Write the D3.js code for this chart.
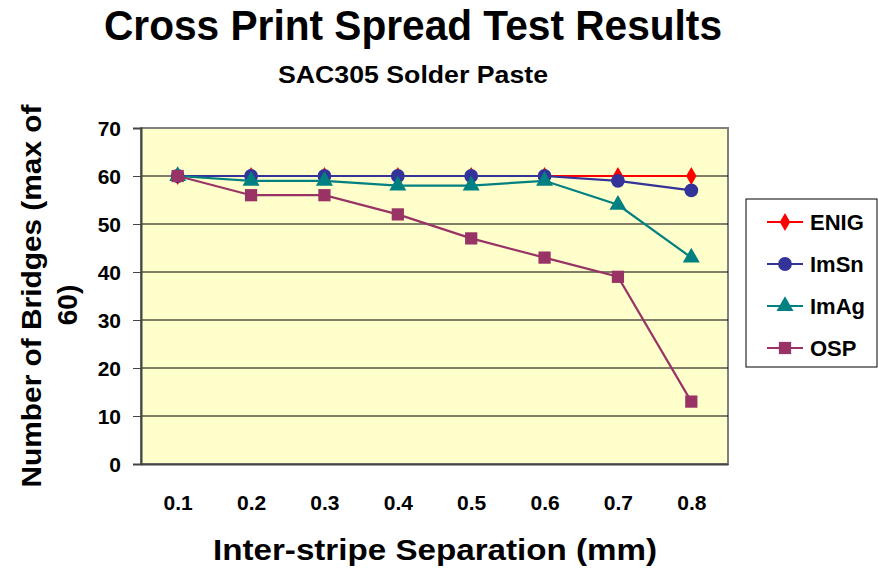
<!doctype html>
<html lang="en">
<head>
<meta charset="utf-8">
<title>Cross Print Spread Test Results</title>
<script src="https://cdn.jsdelivr.net/npm/d3@7"></script>
<style>
  body { margin: 0; background: #fff; }
  svg text { font-family: "Liberation Sans", Arial, sans-serif; font-weight: bold; fill: #000; }
</style>
</head>
<body>
<svg width="878" height="573"></svg>
<script>
  // data
  const separations = ["0.1", "0.2", "0.3", "0.4", "0.5", "0.6", "0.7", "0.8"];
  const enig = [60, 60, 60, 60, 60, 60, 60, 60];
  const imsn = [60, 60, 60, 60, 60, 60, 59, 57];
  const imag = [60, 59, 59, 58, 58, 59, 54, 43];
  const osp  = [60, 56, 56, 52, 47, 43, 39, 13];
  const yTicks = [0, 10, 20, 30, 40, 50, 60, 70];

  const series = [
    {name: "ENIG", values: enig, color: "#ff0000", shape: d3.symbolDiamond, size: 95},
    {name: "ImSn", values: imsn, color: "#333399", shape: d3.symbolCircle, size: 150},
    {name: "ImAg", values: imag, color: "#008080", shape: d3.symbolTriangle, size: 125},
    {name: "OSP",  values: osp,  color: "#993366", shape: d3.symbolSquare, size: 150}
  ];

  const margin = {top: 128, left: 141};
  const width = 728 - margin.left;
  const height = 464 - margin.top;

  const svg = d3.select("svg");

  // condensed-looking text: stretch to the measured width
  function label(x, y, size, str, len) {
    return svg.append("text")
      .attr("x", x).attr("y", y)
      .attr("text-anchor", "middle")
      .style("font-size", size + "px")
      .attr("textLength", len).attr("lengthAdjust", "spacingAndGlyphs")
      .text(str);
  }

  label(413, 40, 42, "Cross Print Spread Test Results", 618);
  label(413, 83, 23, "SAC305 Solder Paste", 270);

  const g = svg.append("g").attr("transform", `translate(${margin.left},${margin.top})`);

  const x = d3.scalePoint().domain(separations).range([0, width]).padding(0.5);
  const y = d3.scaleLinear().domain([0, 70]).range([height, 0]);

  g.append("rect")
    .attr("width", width).attr("height", height)
    .attr("fill", "#ffffcc")
    .attr("stroke", "#808080").attr("stroke-width", 2);

  // grid
  g.selectAll(".grid").data(yTicks.filter(d => d > 0 && d < 70)).enter()
    .append("line")
    .attr("x1", 0).attr("x2", width)
    .attr("y1", d => y(d)).attr("y2", d => y(d))
    .attr("stroke", "#000").attr("stroke-width", 1);

  const yAxis = g.append("g")
    .call(d3.axisLeft(y).tickValues(yTicks).tickSize(8).tickPadding(12));
  yAxis.select(".domain").attr("stroke", "#444").attr("stroke-width", 2);
  yAxis.selectAll(".tick line").attr("stroke", "#444");
  yAxis.selectAll("text").style("font-size", "21px").attr("dy", "0.36em");

  const xAxis = g.append("g").attr("transform", `translate(0,${height})`)
    .call(d3.axisBottom(x).tickSize(0).tickPadding(31));
  xAxis.select(".domain").attr("stroke", "#444").attr("stroke-width", 2);
  xAxis.selectAll("text").style("font-size", "21px");

  const line = d3.line().x((d, i) => x(separations[i])).y(d => y(d));

  series.forEach(s => {
    g.append("path")
      .attr("d", line(s.values))
      .attr("fill", "none")
      .attr("stroke", s.color).attr("stroke-width", 2.2);
    g.selectAll(null).data(s.values).enter()
      .append("path")
      .attr("d", d3.symbol().type(s.shape).size(s.size))
      .attr("transform", (d, i) => `translate(${x(separations[i])},${y(d)})`)
      .attr("fill", s.color);
  });

  // axis titles
  label(435, 560, 29, "Inter-stripe Separation (mm)", 444);

  svg.append("text")
    .attr("transform", "translate(41,296) rotate(-90)")
    .attr("text-anchor", "middle")
    .style("font-size", "28px")
    .attr("textLength", 383).attr("lengthAdjust", "spacingAndGlyphs")
    .text("Number of Bridges (max of");
  svg.append("text")
    .attr("transform", "translate(77,305) rotate(-90)")
    .attr("text-anchor", "middle")
    .style("font-size", "28px")
    .text("60)");

  // legend
  const lg = svg.append("g").attr("transform", "translate(746,199)");
  lg.append("rect")
    .attr("width", 131).attr("height", 168)
    .attr("fill", "#fff").attr("stroke", "#000").attr("stroke-width", 1);
  series.forEach((s, i) => {
    const row = lg.append("g").attr("transform", `translate(0,${23 + i * 42})`);
    row.append("line").attr("x1", 21).attr("x2", 57)
      .attr("stroke", s.color).attr("stroke-width", 2.2);
    row.append("path")
      .attr("d", d3.symbol().type(s.shape).size(s.size))
      .attr("transform", "translate(39,0)")
      .attr("fill", s.color);
    row.append("text").attr("x", 64).attr("y", 8)
      .style("font-size", "22px")
      .text(s.name);
  });
</script>
</body>
</html>
